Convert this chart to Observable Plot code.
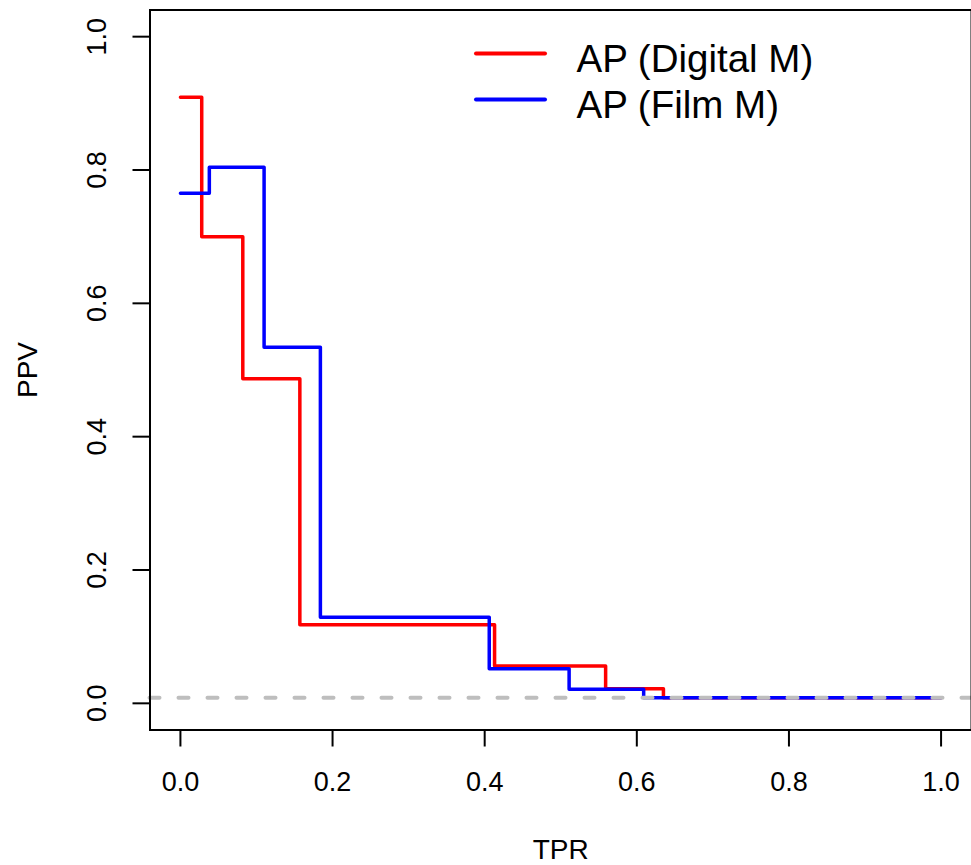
<!DOCTYPE html>
<html><head><meta charset="utf-8">
<script src="https://cdn.jsdelivr.net/npm/d3@7"></script>
<script src="https://cdn.jsdelivr.net/npm/@observablehq/plot@0.6"></script>
<style>
body{margin:0;background:#fff;}
#wrap{position:relative;width:971px;height:865px;overflow:hidden;font-family:"Liberation Sans",Arial,sans-serif;}
#legend{position:absolute;left:0;top:0;pointer-events:none;}
</style></head><body><div id="wrap"></div>
<script>
// Data (step curves, step-after)
const tprDigital = [0, 0.028, 0.082, 0.157, 0.413, 0.559, 0.635, 1.0];
const ppvDigital = [0.909, 0.700, 0.487, 0.118, 0.056, 0.022, 0.0085, 0.0085];
const tprFilm = [0, 0.038, 0.110, 0.184, 0.406, 0.511, 0.609, 1.0];
const ppvFilm = [0.765, 0.804, 0.534, 0.129, 0.052, 0.021, 0.0085, 0.0085];
const baselinePPV = [0.0085];
const seriesNames = ["AP (Digital M)", "AP (Film M)"];
const seriesColors = ["#ff0000", "#0000ff"];
const xTicks = [0, 0.2, 0.4, 0.6, 0.8, 1.0];
const yTicks = [0, 0.2, 0.4, 0.6, 0.8, 1.0];
const xLabel = "TPR";
const yLabel = "PPV";

const digital = tprDigital.map((t, i) => ({tpr: t, ppv: ppvDigital[i]}));
const film = tprFilm.map((t, i) => ({tpr: t, ppv: ppvFilm[i]}));
const fmt = d3.format(".1f");

const plot = Plot.plot({
  width: 971,
  height: 865,
  marginLeft: 149.5,
  marginRight: 0,
  marginTop: 9.5,
  marginBottom: 135.5,
  style: {fontFamily: '"Liberation Sans", Arial, sans-serif', background: "#fff", color: "#000"},
  x: {domain: [-0.04, 1.04], axis: null},
  y: {domain: [-0.04, 1.04], axis: null},
  marks: [
    Plot.line(digital, {x: "tpr", y: "ppv", curve: "step-after", stroke: seriesColors[0], strokeWidth: 3.5, strokeLinecap: "round", strokeLinejoin: "round"}),
    Plot.line(film, {x: "tpr", y: "ppv", curve: "step-after", stroke: seriesColors[1], strokeWidth: 3.5, strokeLinecap: "round", strokeLinejoin: "round"}),
    Plot.ruleY(baselinePPV, {y: d => d, stroke: "#bebebe", strokeWidth: 4, strokeDasharray: "10,19", strokeLinecap: "round"}),
    Plot.axisX({ticks: xTicks, tickSize: 17, tickFormat: () => "", label: null, strokeWidth: 2}),
    Plot.axisY({ticks: yTicks, tickSize: 17, tickFormat: () => "", label: null, strokeWidth: 2}),
    Plot.text(xTicks, {x: d => d, text: d => fmt(d), frameAnchor: "bottom", dy: 52.5, lineAnchor: "middle", fontSize: 27, fill: "#000"}),
    Plot.text(yTicks, {y: d => d, text: d => fmt(d), frameAnchor: "left", dx: -52.3, rotate: -90, textAnchor: "middle", lineAnchor: "middle", fontSize: 27, fill: "#000"}),
    Plot.text([xLabel], {text: d => d, frameAnchor: "bottom", dy: 120.5, lineAnchor: "middle", fontSize: 28, fill: "#000"}),
    Plot.text([yLabel], {text: d => d, frameAnchor: "left", dx: -121.5, rotate: -90, textAnchor: "middle", lineAnchor: "middle", fontSize: 28, fill: "#000"}),
    Plot.frame({stroke: "#000", strokeWidth: 2})
  ]
});
const wrap = document.getElementById("wrap");
wrap.appendChild(plot);

// Legend (inside plot area, top right)
const ns = "http://www.w3.org/2000/svg";
const leg = document.createElementNS(ns, "svg");
leg.setAttribute("id", "legend");
leg.setAttribute("width", 971);
leg.setAttribute("height", 865);
const rowY = [53.5, 99.5];
seriesNames.forEach((name, i) => {
  const ln = document.createElementNS(ns, "line");
  ln.setAttribute("x1", 476); ln.setAttribute("x2", 545);
  ln.setAttribute("y1", rowY[i]); ln.setAttribute("y2", rowY[i]);
  ln.setAttribute("stroke", seriesColors[i]);
  ln.setAttribute("stroke-width", 4);
  ln.setAttribute("stroke-linecap", "round");
  leg.appendChild(ln);
  const tx = document.createElementNS(ns, "text");
  tx.setAttribute("x", 576.5);
  tx.setAttribute("y", rowY[i] + 18.5);
  tx.setAttribute("font-size", 38.5);
  tx.setAttribute("font-family", '"Liberation Sans", Arial, sans-serif');
  tx.setAttribute("fill", "#000");
  tx.textContent = name;
  leg.appendChild(tx);
});
wrap.appendChild(leg);
</script></body></html>
